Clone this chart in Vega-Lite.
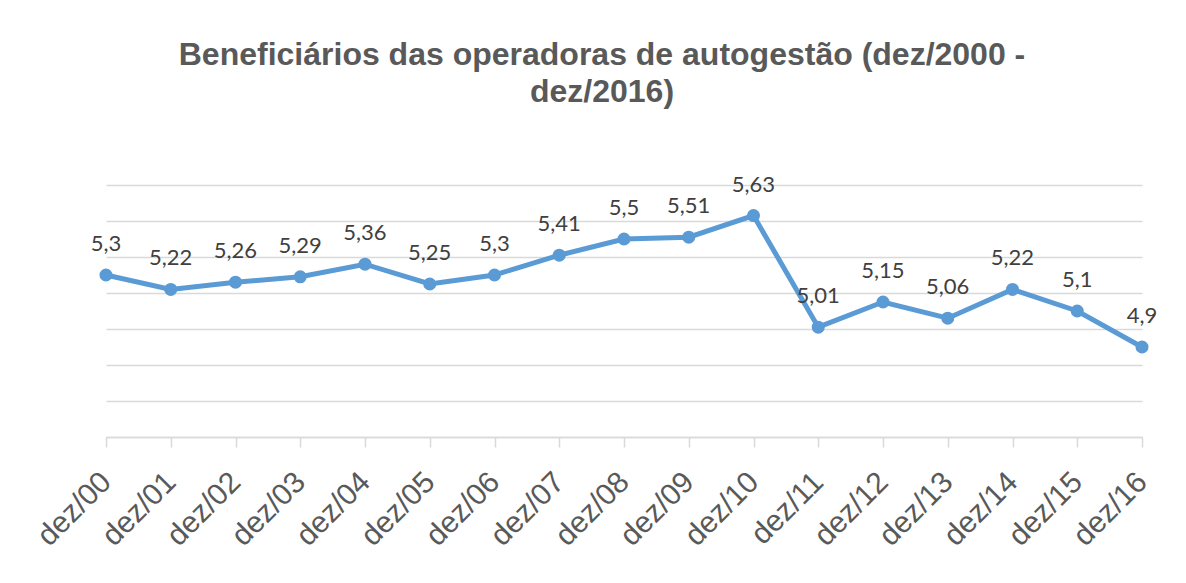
{
  "$schema": "https://vega.github.io/schema/vega-lite/v6.json",
  "width": 1036,
  "height": 252,
  "autosize": "none",
  "padding": {"left": 106, "top": 185, "right": 44, "bottom": 146},
  "background": "white",
  "config": {
    "view": {"stroke": null},
    "locale": {"number": {"decimal": ",", "thousands": ".", "grouping": [3], "currency": ["R$", ""]}}
  },
  "title": {
    "text": ["Beneficiários das operadoras de autogestão (dez/2000 -", "dez/2016)"],
    "font": "Liberation Sans",
    "fontSize": 32,
    "fontWeight": "bold",
    "color": "#595959",
    "lineHeight": 37,
    "dx": -22,
    "offset": 65
  },
  "data": {
    "values": [
      {"periodo": "dez/00", "valor": 5.3},
      {"periodo": "dez/01", "valor": 5.22},
      {"periodo": "dez/02", "valor": 5.26},
      {"periodo": "dez/03", "valor": 5.29},
      {"periodo": "dez/04", "valor": 5.36},
      {"periodo": "dez/05", "valor": 5.25},
      {"periodo": "dez/06", "valor": 5.3},
      {"periodo": "dez/07", "valor": 5.41},
      {"periodo": "dez/08", "valor": 5.5},
      {"periodo": "dez/09", "valor": 5.51},
      {"periodo": "dez/10", "valor": 5.63},
      {"periodo": "dez/11", "valor": 5.01},
      {"periodo": "dez/12", "valor": 5.15},
      {"periodo": "dez/13", "valor": 5.06},
      {"periodo": "dez/14", "valor": 5.22},
      {"periodo": "dez/15", "valor": 5.1},
      {"periodo": "dez/16", "valor": 4.9}
    ]
  },
  "encoding": {
    "x": {
      "field": "periodo",
      "type": "ordinal",
      "sort": null,
      "scale": {"type": "point", "padding": 0},
      "axis": {
        "title": null,
        "grid": false,
        "domainColor": "#d9d9d9",
        "domainWidth": 1.5,
        "tickColor": "#d9d9d9",
        "tickWidth": 1.5,
        "tickSize": 10,
        "labelAngle": -45,
        "labelAlign": "right",
        "labelBaseline": "middle",
        "labelFont": "Liberation Sans",
        "labelFontSize": 30,
        "labelColor": "#595959",
        "labelPadding": 30
      }
    },
    "y": {
      "field": "valor",
      "type": "quantitative",
      "scale": {"domain": [4.4, 5.8], "nice": false, "zero": false},
      "axis": {
        "title": null,
        "values": [4.4, 4.6, 4.8, 5.0, 5.2, 5.4, 5.6, 5.8],
        "labels": false,
        "ticks": false,
        "domain": false,
        "grid": true,
        "gridColor": "#d9d9d9",
        "gridWidth": 1.5
      }
    }
  },
  "layer": [
    {"mark": {"type": "line", "color": "#5b9bd5", "strokeWidth": 5}},
    {"mark": {"type": "point", "filled": true, "size": 170, "color": "#5b9bd5", "opacity": 1}},
    {
      "mark": {"type": "text", "dy": -31, "font": "Lato", "fontSize": 22, "color": "#404040"},
      "encoding": {"text": {"field": "valor", "type": "quantitative", "format": "~g"}}
    }
  ]
}
